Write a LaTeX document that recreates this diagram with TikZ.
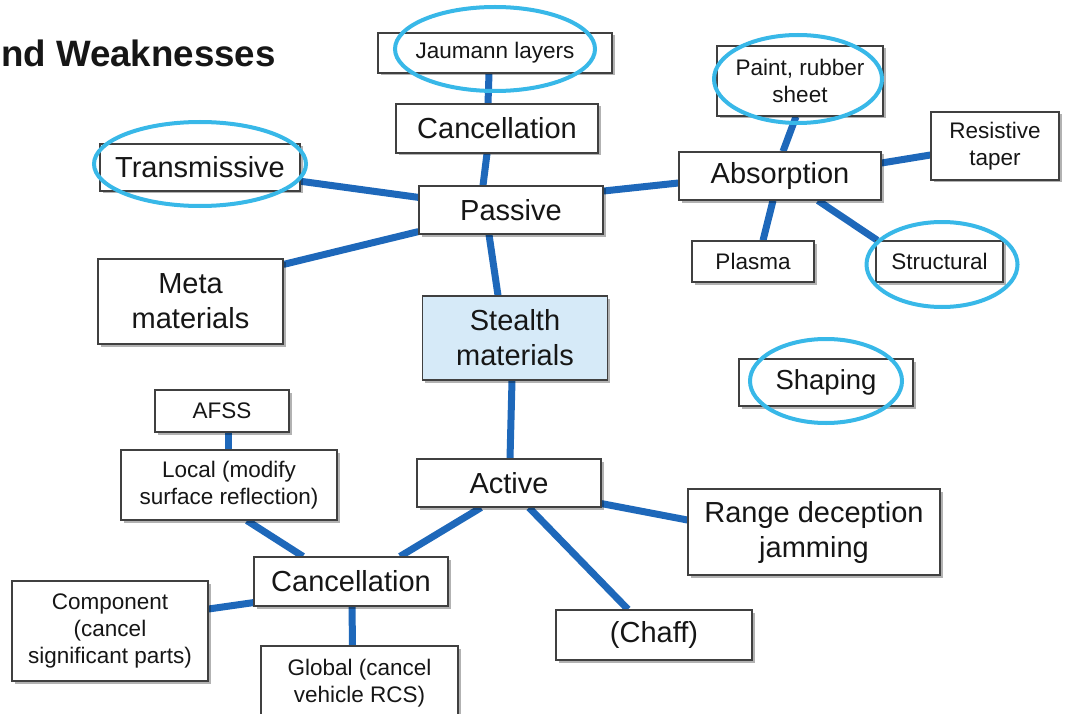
\documentclass[tikz,border=0pt]{standalone}
\usepackage{fontspec}
\setmainfont{Liberation Sans}
\usepackage{tikz}
\usetikzlibrary{shadows}
\usetikzlibrary{backgrounds}

\definecolor{linkblue}{RGB}{30,104,186}
\definecolor{ringcyan}{RGB}{56,184,232}
\definecolor{paleblue}{RGB}{214,234,248}
\definecolor{boxgray}{RGB}{64,64,64}
\definecolor{inkblack}{RGB}{22,22,22}

\tikzset{
  box/.style={draw=boxgray, line width=1.2pt, fill=white, inner sep=0pt,
    align=center, text=inkblack, font=\fontsize{22.5}{27}\selectfont,
    drop shadow={shadow xshift=2.5pt, shadow yshift=-2.5pt, opacity=0.3, fill=black}},
  bigbox/.style={box, font=\fontsize{29}{35}\selectfont},
  link/.style={draw=linkblue, line width=7pt},
  ring/.style={draw=ringcyan, line width=4pt},
}

\begin{document}
\begin{tikzpicture}[x=1pt, y=-1pt]
        \useasboundingbox (0,0) rectangle (1070,714);

        \node[anchor=base west, text=inkblack, font=\fontsize{36.7}{44}\bfseries] (title) at (-2.5,67) {nd Weaknesses};

        % passive branch
        \node[box, minimum width=234, minimum height=40] (jaumann) at (495,53) {Jaumann layers};
        \node[bigbox, minimum width=202, minimum height=49] (canctop) at (497,128.5) {Cancellation};
        \node[bigbox, minimum width=184, minimum height=48] (passive) at (511,210) {Passive};
        \node[bigbox, minimum width=200, minimum height=47] (transmissive) at (200,167.5) {Transmissive};
        \node[bigbox, minimum width=185, minimum height=85] (meta) at (190.5,301.5) {Meta\\materials};
        \node[bigbox, minimum width=185, minimum height=84, fill=paleblue] (stealth) at (515,338) {Stealth\\materials};

        \node[bigbox, minimum width=202, minimum height=48] (absorption) at (780,176) {Absorption};
        \node[box, minimum width=166, minimum height=70] (paint) at (800,81) {Paint, rubber\\sheet};
        \node[box, minimum width=128, minimum height=68] (resistive) at (995,146) {Resistive\\taper};
        \node[box, minimum width=122, minimum height=41] (plasma) at (753,261.5) {Plasma};
        \node[box, minimum width=127, minimum height=41] (structural) at (939.5,261.5) {Structural};
        \node[box, minimum width=174, minimum height=47, font=\fontsize{27.5}{33}\selectfont] (shaping) at (826,382.5) {Shaping};

        % active branch
        \node[bigbox, minimum width=184, minimum height=48] (active) at (509,483) {Active};
        \node[bigbox, minimum width=252, minimum height=86] (range) at (814,532) {Range deception\\jamming};
        \node[bigbox, minimum width=196, minimum height=50] (chaff) at (654,635) {(Chaff)};
        \node[bigbox, minimum width=194, minimum height=49] (canc2) at (351,581.5) {Cancellation};
        \node[box, minimum width=134, minimum height=42] (afss) at (222,411) {AFSS};
        \node[box, minimum width=216, minimum height=70] (local) at (229,485) {Local (modify\\surface reflection)};
        \node[box, minimum width=196, minimum height=100] (component) at (110,631) {Component\\(cancel\\significant parts)};
        \node[box, minimum width=197, minimum height=74] (global) at (359.5,683) {Global (cancel\\vehicle RCS)};

        \begin{pgfonlayer}{background}
        \fill[white] (0,0) rectangle (1070,714);
        \draw[link] ([xshift=-6pt]jaumann.south) -- ([xshift=-9pt]canctop.north);
        \draw[link] ([xshift=-10pt]canctop.south) -- ([xshift=-28pt]passive.north);
        \draw[link] (transmissive) -- (passive);
        \draw[link] ([yshift=-6pt]meta.north east) -- ([yshift=3pt]passive.south west);
        \draw[link] ([yshift=19pt]passive.east) -- ([yshift=-7pt]absorption.west);
        \draw[link] ([xshift=-22pt]passive.south) -- ([xshift=-17pt]stealth.north);
        \draw[link] ([xshift=3pt]absorption.north) -- ([xshift=-4pt]paint.south);
        \draw[link] ([yshift=13pt]absorption.east) -- ([yshift=-9pt]resistive.west);
        \draw[link] ([xshift=-7pt]absorption.south) -- ([xshift=10pt]plasma.north);
        \draw[link] ([xshift=38pt]absorption.south) -- ([xshift=2pt]structural.north west);
        \draw[link] ([xshift=-3pt]stealth.south) -- ([xshift=1pt]active.north);
        \draw[link] ([yshift=4pt]active.south east) -- ([yshift=12pt]range.west);
        \draw[link] ([xshift=20pt]active.south) -- ([xshift=-26pt]chaff.north);
        \draw[link] ([xshift=-28pt]active.south) -- ([xshift=49pt]canc2.north);
        \draw[link] ([xshift=-48pt]canc2.north) -- ([xshift=18pt]local.south);
        \draw[link] ([xshift=-1pt]local.north) -- ([xshift=6pt]afss.south);
        \draw[link] ([yshift=4pt]canc2.south west) -- ([yshift=22pt]component.east);
        \draw[link] ([xshift=1pt]canc2.south) -- ([xshift=-7pt]global.north);
        \end{pgfonlayer}

        % highlights
        \draw[ring] ([yshift=3.5pt]transmissive.center) ellipse [x radius=106pt, y radius=42pt];
        \draw[ring] ([yshift=4pt]jaumann.center) ellipse [x radius=100pt, y radius=42pt];
        \draw[ring] ([shift={(-2pt,2pt)}]paint.center) ellipse [x radius=84pt, y radius=44pt];
        \draw[ring] ([shift={(2.5pt,-3pt)}]structural.center) ellipse [x radius=75.5pt, y radius=42.5pt];
        \draw[ring] ([yshift=1.5pt]shaping.center) ellipse [x radius=76pt, y radius=42pt];
\end{tikzpicture}
\end{document}
